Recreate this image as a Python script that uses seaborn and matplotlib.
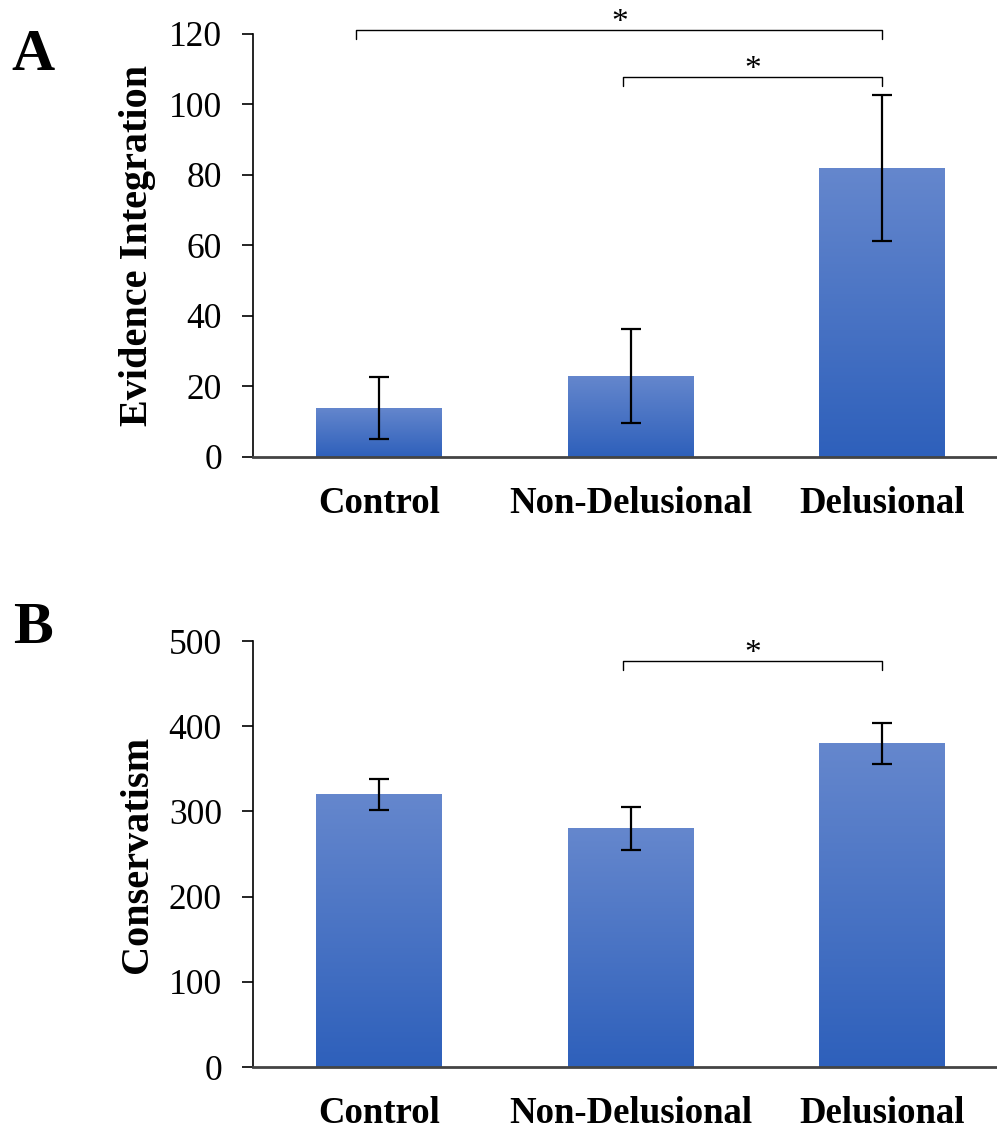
# gráfico de barras com dois painéis (A e B), barras em degradê e colchetes de significância
import matplotlib
matplotlib.use('Agg')
import matplotlib.pyplot as plt
from matplotlib.colors import LinearSegmentedColormap
import pandas as pd
import seaborn as sns
import numpy as np

# dados
grupos = ['Control', 'Non-Delusional', 'Delusional']
evidencia = [14.0, 23.0, 82.0]
evidencia_erro = [8.8, 13.3, 20.8]
conservadorismo = [320, 280, 380]
conservadorismo_erro = [18, 25, 24]
ticks_a = [0, 20, 40, 60, 80, 100, 120]
ticks_b = [0, 100, 200, 300, 400, 500]
# colchetes: (grupo inicial, grupo final, altura, altura da perninha, deslocamento da ponta esquerda)
colchetes_a = [(0, 2, 121.1, 118.6, -0.09), (1, 2, 107.8, 105.2, -0.03)]
colchetes_b = [(1, 2, 476.5, 466.0, -0.03)]

sns.set_style('white')
plt.rcParams['font.family'] = ['Liberation Serif', 'DejaVu Serif']
plt.rcParams['text.color'] = 'black'
plt.rcParams['axes.labelcolor'] = 'black'
plt.rcParams['xtick.color'] = 'black'
plt.rcParams['ytick.color'] = 'black'

degrade = LinearSegmentedColormap.from_list('degrade', ['#2E60BB', '#6587CD'])

fig = plt.figure(figsize=(9.97, 11.32), dpi=100)
ax_a = fig.add_axes([0.254, 0.5963, 0.757, 0.3737])
ax_b = fig.add_axes([0.254, 0.0574, 0.757, 0.3763])


def painel(ax, valores, erros, ticks, rotulo, colchetes):
    df = pd.DataFrame({'grupo': grupos, 'valor': valores})
    sns.barplot(data=df, x='grupo', y='valor', ax=ax, width=0.5,
                color='#4472C4', errorbar=None, linewidth=0)
    gradiente = np.linspace(0, 1, 256).reshape(-1, 1)
    xs = []
    for p in ax.patches:
        x0, y0 = p.get_x(), p.get_y()
        w, h = p.get_width(), p.get_height()
        xs.append(x0 + w / 2)
        img = ax.imshow(gradiente, cmap=degrade, origin='lower', aspect='auto',
                        extent=[x0, x0 + w, y0, y0 + h], zorder=2)
        img.set_clip_path(p)
    ax.errorbar(xs, valores, yerr=erros, fmt='none', ecolor='black',
                elinewidth=1.6, capsize=7, capthick=1.6, zorder=3)
    ax.set_xlim(-0.5, 2.5)
    ax.set_ylim(ticks[0], ticks[-1])
    ax.set_yticks(ticks)
    ax.tick_params(axis='y', direction='out', length=8, width=1.2,
                   pad=14.5, labelsize=25.5, left=True)
    ax.tick_params(axis='x', length=0, pad=21)
    for t in ax.get_xticklabels():
        t.set_fontweight('bold')
        t.set_fontsize(26.5)
    ax.set_xlabel('')
    ax.set_ylabel(rotulo, fontsize=29, fontweight='bold', labelpad=9)
    for s in ['top', 'right']:
        ax.spines[s].set_visible(False)
    ax.spines['left'].set_color('black')
    ax.spines['left'].set_linewidth(1.2)
    ax.spines['bottom'].set_color('#444444')
    ax.spines['bottom'].set_linewidth(2)
    # colchetes de significância
    for i, j, y, y2, desl in colchetes:
        xa = xs[i] + desl
        xb = xs[j]
        ax.plot([xa, xa, xb, xb], [y2, y, y, y2], color='black', lw=1.0,
                clip_on=False, zorder=4)
        ax.annotate('*', xy=((xa + xb) / 2, y), xytext=(0, 5),
                    textcoords='offset points', ha='center', va='center',
                    fontsize=24, annotation_clip=False)


painel(ax_a, evidencia, evidencia_erro, ticks_a, 'Evidence Integration', colchetes_a)
painel(ax_b, conservadorismo, conservadorismo_erro, ticks_b, 'Conservatism', colchetes_b)

# letras dos painéis
fig.text(11 / 997, 1 - 70 / 1132, 'A', fontsize=43, fontweight='bold',
         ha='left', va='baseline')
fig.text(13 / 997, 1 - 643 / 1132, 'B', fontsize=43, fontweight='bold',
         ha='left', va='baseline')

fig.savefig('out.png', dpi=100)
